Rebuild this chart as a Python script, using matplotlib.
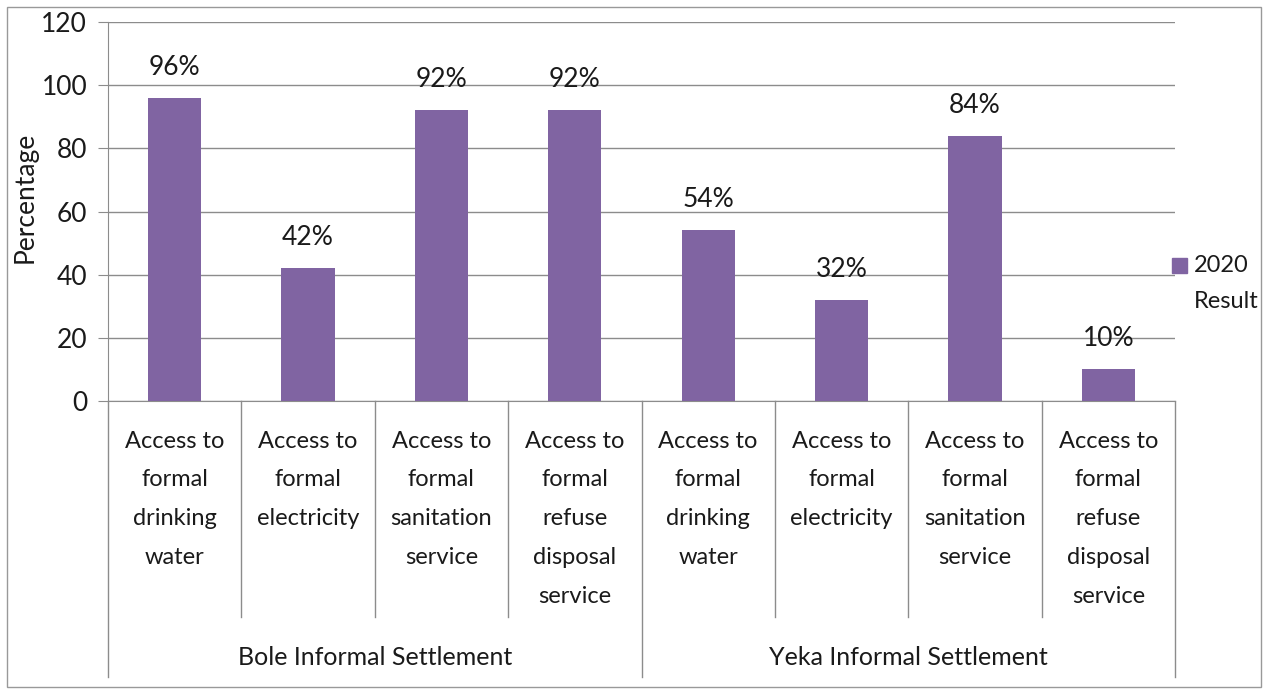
import numpy as np
import matplotlib.pyplot as plt
from matplotlib.patches import Rectangle

# dados
categorias = [
    "Access to\nformal\ndrinking\nwater",
    "Access to\nformal\nelectricity",
    "Access to\nformal\nsanitation\nservice",
    "Access to\nformal\nrefuse\ndisposal\nservice",
] * 2
grupos = ["Bole Informal Settlement", "Yeka Informal Settlement"]
valores = [96, 42, 92, 92, 54, 32, 84, 10]
serie = "2020\nResult"
yticks = [0, 20, 40, 60, 80, 100, 120]

cor = "#8064A2"
cinza = "#8c8c8c"
texto = "#1a1a1a"
fonte = "Lato"

fig = plt.figure(figsize=(12.68, 6.92), dpi=100)
ax = fig.add_axes([108 / 1268, 1 - 401 / 692, (1175 - 108) / 1268, (401 - 22) / 692])

x = np.arange(len(valores))
ax.bar(x, valores, width=0.4, color=cor, zorder=3)

for xi, v in zip(x, valores):
    ax.annotate(f"{v}%", (xi, v), xytext=(0, 22), textcoords="offset points",
                ha="center", va="center", fontsize=19, family=fonte, color=texto)

ax.set_xlim(-0.5, len(valores) - 0.5)
ax.set_ylim(0, 120)
ax.set_yticks(yticks)
ax.set_yticklabels([str(t) for t in yticks], family=fonte, fontsize=19, color=texto)
ax.yaxis.grid(True, color=cinza, linewidth=1, zorder=0)
ax.tick_params(axis="y", length=7, color=cinza, pad=8)
ax.set_xticks([])
for lado in ["top", "right"]:
    ax.spines[lado].set_visible(False)
ax.spines["left"].set_color(cinza)
ax.spines["bottom"].set_color(cinza)

ax.set_ylabel("Percentage", family=fonte, fontsize=19, color=texto)
ax.yaxis.set_label_coords(-0.066, 0.538)

# separadores das categorias e grupos
trans = ax.get_xaxis_transform()
for i in range(len(valores) + 1):
    fundo = -0.728 if i % 4 == 0 else -0.570
    ax.plot([i - 0.5, i - 0.5], [0, fundo], color=cinza, lw=1, transform=trans, clip_on=False)

for xi, cat in zip(x, categorias):
    ax.text(xi, -0.078, cat, transform=trans, ha="center", va="top",
            fontsize=17, family=fonte, linespacing=2.05, color=texto)

for g, nome in enumerate(grupos):
    ax.text(g * 4 + 1.5, -0.678, nome, transform=trans, ha="center", va="center",
            fontsize=18, family=fonte, color=texto)

# legenda
fig.patches.append(Rectangle((1172 / 1268, 1 - 273 / 692), 15 / 1268, 15 / 692,
                             transform=fig.transFigure, color=cor))
fig.text(1194 / 1268, 1 - 255 / 692, serie, ha="left", va="top", fontsize=17,
         family=fonte, linespacing=1.9, color=texto)

# moldura
fig.patches.append(Rectangle((7 / 1268, 5 / 692), 1254 / 1268, 680 / 692,
                             transform=fig.transFigure, fill=False, edgecolor="#999999", lw=1))

fig.savefig("out.png", dpi=100)
